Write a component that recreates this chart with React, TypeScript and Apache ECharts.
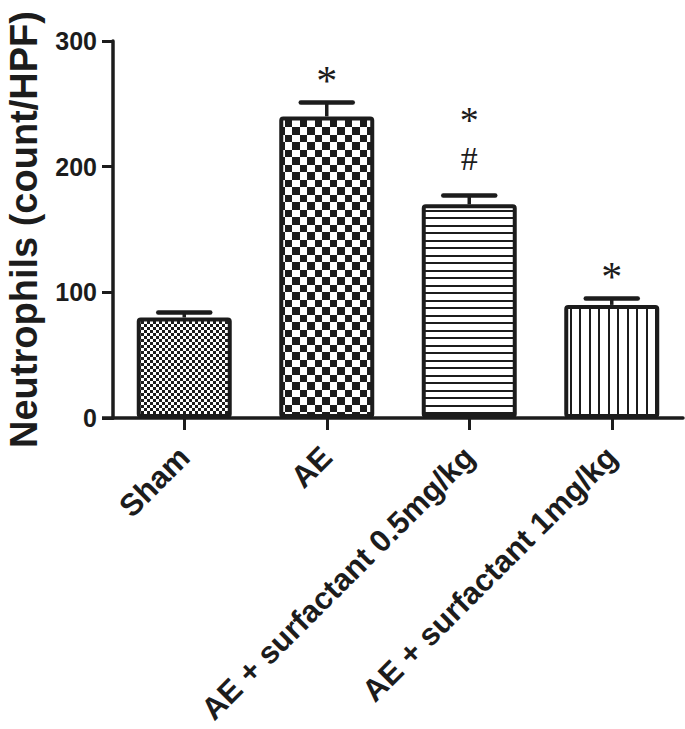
import React, { useEffect, useRef } from 'react';
import * as echarts from 'echarts';

const categories = ['Sham', 'AE', 'AE + surfactant 0.5mg/kg', 'AE + surfactant 1mg/kg'];
const means = [80, 240, 170, 90];
const sems = [4, 11, 7, 5];
const starMarks = ['', '*', '*', '*'];
const hashMarks = ['', '', '#', ''];
const yTicks = [0, 100, 200, 300];
const yTitle = 'Neutrophils (count/HPF)';

const INK = '#1c1c1c';
const SANS = '"Liberation Sans", Arial, sans-serif';
const SERIF = '"Liberation Serif", "Times New Roman", serif';

function makeCanvas(w: number, h: number, draw: (ctx: CanvasRenderingContext2D) => void) {
  const c = document.createElement('canvas');
  c.width = w;
  c.height = h;
  const ctx = c.getContext('2d')!;
  ctx.fillStyle = '#ffffff';
  ctx.fillRect(0, 0, w, h);
  ctx.fillStyle = INK;
  draw(ctx);
  return c;
}

function patterns() {
  const fine = makeCanvas(6, 6, (ctx) => {
    ctx.fillRect(0, 0, 3, 3);
    ctx.fillRect(3, 3, 3, 3);
  });
  const coarse = makeCanvas(15, 15, (ctx) => {
    ctx.fillRect(0, 0, 7, 7);
    ctx.fillRect(7, 7, 8, 8);
  });
  const horiz = makeCanvas(4, 15, (ctx) => {
    ctx.fillRect(0, 0, 4, 2);
    ctx.fillRect(0, 7, 4, 2);
  });
  const vert = makeCanvas(19, 4, (ctx) => {
    ctx.fillRect(0, 0, 2, 4);
    ctx.fillRect(9, 0, 2, 4);
  });
  return [
    { image: fine, repeat: 'repeat', imageWidth: 6, imageHeight: 6 },
    { image: coarse, repeat: 'repeat', imageWidth: 15, imageHeight: 15 },
    { image: horiz, repeat: 'repeat', imageWidth: 4, imageHeight: 15 },
    { image: vert, repeat: 'repeat', imageWidth: 19, imageHeight: 4 },
  ];
}

export default function App() {
  const ref = useRef<HTMLDivElement>(null);

  useEffect(() => {
    if (!ref.current) return;
    const chart = echarts.init(ref.current, null, { renderer: 'svg' });
    const pats = patterns();

    const option: any = {
      animation: false,
      backgroundColor: '#ffffff',
      grid: {
        left: 113,
        right: 2,
        top: 41,
        bottom: 311,
        containLabel: false,
        outerBoundsMode: 'none',
      },
      xAxis: {
        type: 'category',
        data: categories,
        axisLine: { show: true, lineStyle: { color: INK, width: 3.5 } },
        axisTick: { show: true, alignWithLabel: true, length: 12, lineStyle: { color: INK, width: 3 } },
        axisLabel: {
          interval: 0,
          rotate: 45,
          margin: 34,
          color: INK,
          fontFamily: SANS,
          fontWeight: 'bold',
          fontSize: 31,
        },
        splitLine: { show: false },
      },
      yAxis: {
        type: 'value',
        min: yTicks[0],
        max: yTicks[yTicks.length - 1],
        interval: yTicks[1] - yTicks[0],
        name: yTitle,
        nameLocation: 'middle',
        nameRotate: 90,
        nameGap: 70,
        nameTextStyle: { color: INK, fontFamily: SANS, fontWeight: 'bold', fontSize: 38 },
        axisLine: { show: true, lineStyle: { color: INK, width: 3.5 } },
        axisTick: { show: true, length: 11, lineStyle: { color: INK, width: 3 } },
        axisLabel: { margin: 16, color: INK, fontFamily: SANS, fontWeight: 'bold', fontSize: 25 },
        splitLine: { show: false },
      },
      graphic: [
        {
          type: 'line',
          shape: { x1: 102, y1: 418, x2: 114, y2: 418 },
          style: { stroke: INK, lineWidth: 3.5 },
          z: 10,
        },
      ],
      series: [
        {
          type: 'bar',
          barWidth: 95,
          data: means.map((v, i) => ({
            value: v,
            itemStyle: { color: pats[i] },
          })),
          itemStyle: { borderColor: INK, borderWidth: 4, borderRadius: 2 },
          z: 2,
        },
        {
          type: 'custom',
          z: 3,
          data: means.map((v, i) => [i, v, sems[i]]),
          renderItem: (params: any, api: any) => {
            const x = api.value(0);
            const v = api.value(1);
            const e = api.value(2);
            const base = api.coord([x, v]);
            const top = api.coord([x, v + e]);
            const half = 26;
            return {
              type: 'group',
              children: [
                {
                  type: 'line',
                  shape: { x1: base[0], y1: base[1], x2: top[0], y2: top[1] },
                  style: { stroke: INK, lineWidth: 3.5 },
                },
                {
                  type: 'line',
                  shape: { x1: top[0] - half, y1: top[1], x2: top[0] + half, y2: top[1] },
                  style: { stroke: INK, lineWidth: 4.5, lineCap: 'round' },
                },
              ],
            };
          },
        },
        {
          type: 'custom',
          z: 4,
          data: means.map((v, i) => [i, v + sems[i]]),
          renderItem: (params: any, api: any) => {
            const i = params.dataIndex;
            const p = api.coord([api.value(0), api.value(1)]);
            const children: any[] = [];
            const hasHash = hashMarks[i] !== '';
            if (hasHash) {
              children.push({
                type: 'text',
                style: {
                  text: hashMarks[i],
                  x: p[0],
                  y: p[1] - 37,
                  align: 'center',
                  verticalAlign: 'middle',
                  lineHeight: 20,
                  fontFamily: SERIF,
                  fontSize: 34,
                  fill: INK,
                },
              });
            }
            if (starMarks[i] !== '') {
              children.push({
                type: 'text',
                style: {
                  text: starMarks[i],
                  x: p[0],
                  y: p[1] - (hasHash ? 76 : 22),
                  align: 'center',
                  verticalAlign: 'middle',
                  lineHeight: 20,
                  fontFamily: SERIF,
                  fontSize: hasHash ? 38 : 42,
                  fill: INK,
                },
              });
            }
            return { type: 'group', children };
          },
        },
      ],
    };

    chart.setOption(option);
    return () => chart.dispose();
  }, []);

  return (
    <div
      ref={ref}
      style={{ position: 'absolute', left: 0, top: 0, width: 685, height: 729 }}
    />
  );
}
